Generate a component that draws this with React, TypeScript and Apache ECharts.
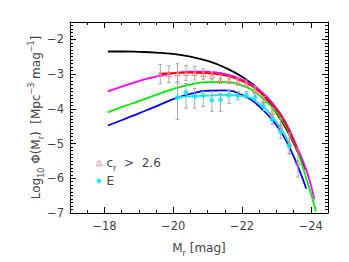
import React, { useEffect, useRef } from 'react';
import * as echarts from 'echarts';

// Model curves: absolute magnitude M_r and log10 phi
const blackM = [-18.1, -18.5, -19, -19.5, -20, -20.5, -21, -21.5, -22, -22.5, -23, -23.3, -23.6, -23.85];
const blackPhi = [-2.35, -2.35, -2.36, -2.38, -2.42, -2.5, -2.62, -2.81, -3.08, -3.46, -4.12, -4.6, -5.2, -5.75];

const magentaM = [-18.1, -18.5, -19, -19.5, -20, -20.5, -21, -21.5, -22, -22.5, -23, -23.3, -23.6, -23.9, -24.1];
const magentaPhi = [-3.5, -3.36, -3.2, -3.07, -2.98, -2.93, -2.93, -3.0, -3.16, -3.45, -3.98, -4.45, -5.1, -5.85, -6.6];

const greenM = [-18.1, -18.5, -19, -19.5, -20, -20.5, -21, -21.5, -22, -22.5, -23, -23.3, -23.6, -23.9, -24.15];
const greenPhi = [-4.1, -3.95, -3.78, -3.6, -3.43, -3.3, -3.23, -3.23, -3.33, -3.6, -4.1, -4.55, -5.2, -6.1, -6.95];

const blueM = [-18.1, -18.5, -19, -19.5, -20, -20.5, -21, -21.5, -22, -22.5, -23, -23.3, -23.6, -23.87];
const bluePhi = [-4.48, -4.33, -4.13, -3.93, -3.72, -3.57, -3.48, -3.47, -3.6, -3.93, -4.47, -4.95, -5.6, -6.3];

const redM = [-19.6, -20, -20.5, -21, -21.5, -22, -22.5, -23, -23.3, -23.65];
const redPhi = [-2.99, -2.97, -2.96, -2.97, -3.04, -3.2, -3.5, -4.02, -4.5, -5.3];

const cyanM = [-20.1, -20.5, -21, -21.5, -22, -22.5, -23, -23.4];
const cyanPhi = [-3.68, -3.64, -3.62, -3.6, -3.63, -3.85, -4.38, -5.05];

// Measured points: c_r > 2.6 (triangles)
const crM = [-19.625, -19.875, -20.125, -20.375, -20.625, -20.875, -21.125, -21.375, -21.625, -21.875, -22.125, -22.375, -22.625, -22.875, -23.125, -23.375, -23.625];
const crPhi = [-3.0, -3.0, -2.98, -2.97, -2.97, -3.0, -3.05, -3.15, -3.18, -3.22, -3.27, -3.45, -3.75, -4.1, -4.5, -5.0, -5.55];
const crErr = [0.28, 0.24, 0.28, 0.22, 0.2, 0.15, 0.12, 0.12, 0.1, 0.1, 0.1, 0.1, 0.1, 0.12, 0.22, 0.3, 0.42];

// Measured points: E (filled circles)
const eM = [-20.125, -20.375, -20.625, -20.875, -21.125, -21.375, -21.625, -21.875, -22.125, -22.375, -22.625, -22.875, -23.125, -23.375];
const ePhi = [-3.68, -3.53, -3.64, -3.62, -3.75, -3.74, -3.61, -3.62, -3.6, -3.67, -3.93, -4.3, -4.65, -5.07];
const eHi = [-3.22, -3.27, -3.41, -3.51, -3.51, -3.56, -3.46, -3.5, -3.5, -3.57, -3.81, -4.15, -4.45, -4.85];
const eLo = [-4.3, -3.98, -3.98, -3.93, -4.07, -4.07, -3.84, -3.74, -3.7, -3.77, -4.05, -4.45, -4.85, -5.29];

const xMajorTicks = [-24, -22, -20, -18];
const xMinorTicks = [-24.5, -23.5, -23, -22.5, -21.5, -21, -20.5, -19.5, -19, -18.5, -17.5];

const FONT = 'DejaVu Sans';
const TXT = '#444';
const TRI_COLOR = '#f07878';
const DOT_COLOR = '#00e8f8';

const pairs = (xs: number[], ys: number[]) => xs.map((x, i) => [x, ys[i]]);

const minusFmt = (v: number) => {
  if (Math.abs(v - Math.round(v)) > 1e-6) return '';
  return v < 0 ? '\u2212' + Math.abs(v) : String(v);
};

export default function App() {
  const ref = useRef<HTMLDivElement>(null);
  useEffect(() => {
    if (!ref.current) return;
    const chart = echarts.init(ref.current, undefined, { renderer: 'svg' });

    const lineSeries = (name: string, xs: number[], ys: number[], color: string, z: number) => ({
      name,
      type: 'line',
      data: pairs(xs, ys),
      smooth: true,
      symbol: 'none',
      showSymbol: false,
      lineStyle: { color, width: 1.8 },
      itemStyle: { color },
      z,
    });

    const errData = [
      ...crM.map((m, i) => [m, crPhi[i] - crErr[i], crPhi[i] + crErr[i]]),
      ...eM.map((m, i) => [m, eLo[i], eHi[i]]),
    ];

    const baseX = {
      type: 'value',
      min: -24.5,
      max: -17,
      inverse: true,
      splitLine: { show: false },
    };
    const baseY = {
      type: 'value',
      min: -7,
      max: -1.5,
      interval: 1,
      splitLine: { show: false },
    };

    const richText = {
      t: { fontFamily: FONT, fontSize: 12, color: TXT, lineHeight: 18 },
      s: { fontFamily: FONT, fontSize: 8, color: TXT, verticalAlign: 'bottom', lineHeight: 18 },
      p: { fontFamily: FONT, fontSize: 8, color: TXT, verticalAlign: 'top', lineHeight: 18 },
    };

    chart.setOption({
      animation: false,
      backgroundColor: '#fff',
      grid: { left: 70, right: 21, top: 22, bottom: 45, containLabel: false },
      legend: {
        orient: 'vertical',
        left: 91,
        top: 152,
        itemWidth: 5,
        itemHeight: 5,
        itemGap: 3,
        data: [
          { name: 'cr', icon: 'triangle', itemStyle: { color: 'rgba(255,255,255,0)', borderColor: TRI_COLOR, borderWidth: 1 } },
          { name: 'E', icon: 'circle', itemStyle: { color: DOT_COLOR, borderWidth: 0 } },
        ],
        formatter: (name: string) => (name === 'cr' ? '{t|c}{s|r}{t|  >  2.6}' : '{t|E}'),
        textStyle: { rich: richText },
      },
      xAxis: [
        {
          ...baseX,
          position: 'bottom',
          axisLine: { show: true, lineStyle: { color: '#000', width: 1 } },
          axisTick: { show: true, inside: true, length: 6, customValues: xMajorTicks, lineStyle: { color: '#000' } },
          axisLabel: {
            show: true,
            customValues: xMajorTicks,
            formatter: minusFmt,
            color: TXT,
            fontFamily: FONT,
            fontSize: 11.5,
            margin: 7,
          },
          name: '{t|M}{s|r}{t| [mag]}',
          nameLocation: 'middle',
          nameGap: 26,
          nameMoveOverlap: false,
          nameTextStyle: { rich: richText },
        },
        {
          ...baseX,
          position: 'bottom',
          axisLine: { show: false },
          axisTick: { show: true, inside: true, length: 3, customValues: xMinorTicks, lineStyle: { color: '#000' } },
          axisLabel: { show: false },
        },
        {
          ...baseX,
          position: 'top',
          axisLine: { show: true, lineStyle: { color: '#000', width: 1 } },
          axisTick: { show: true, inside: true, length: 6, customValues: xMajorTicks, lineStyle: { color: '#000' } },
          axisLabel: { show: false },
        },
        {
          ...baseX,
          position: 'top',
          axisLine: { show: false },
          axisTick: { show: true, inside: true, length: 3, customValues: xMinorTicks, lineStyle: { color: '#000' } },
          axisLabel: { show: false },
        },
      ],
      yAxis: [
        {
          ...baseY,
          position: 'left',
          axisLine: { show: true, lineStyle: { color: '#000', width: 1 } },
          axisTick: { show: true, inside: true, length: 6, lineStyle: { color: '#000' } },
          minorTick: { show: true, splitNumber: 10, length: 3, lineStyle: { color: '#000' } },
          axisLabel: { formatter: minusFmt, color: TXT, fontFamily: FONT, fontSize: 11.5, margin: 6 },
          name: '{t|Log}{s|10}{t| Φ(M}{s|r}{t|)  [Mpc}{p|\u22123}{t| mag}{p|\u22121}{t|]}',
          nameLocation: 'middle',
          nameRotate: 90,
          nameGap: 25,
          nameMoveOverlap: false,
          nameTextStyle: { rich: richText },
        },
        {
          ...baseY,
          position: 'right',
          axisLine: { show: true, lineStyle: { color: '#000', width: 1 } },
          axisTick: { show: true, inside: true, length: 6, lineStyle: { color: '#000' } },
          minorTick: { show: true, splitNumber: 10, length: 3, lineStyle: { color: '#000' } },
          axisLabel: { show: false },
        },
      ],
      series: [
        lineSeries('black', blackM, blackPhi, '#000000', 2),
        lineSeries('magenta', magentaM, magentaPhi, '#ff00ff', 3),
        lineSeries('green', greenM, greenPhi, '#00ee00', 3),
        lineSeries('blue', blueM, bluePhi, '#0000ff', 3),
        lineSeries('red', redM, redPhi, '#ff0000', 4),
        lineSeries('cyan', cyanM, cyanPhi, '#00eeff', 4),
        {
          name: 'errors',
          type: 'custom',
          z: 5,
          data: errData,
          encode: { x: 0, y: [1, 2] },
          renderItem: (_params: any, api: any) => {
            const x = api.value(0);
            const p1 = api.coord([x, api.value(1)]);
            const p2 = api.coord([x, api.value(2)]);
            const c = 2;
            const st = { stroke: '#a8a8a8', lineWidth: 1 };
            return {
              type: 'group',
              children: [
                { type: 'line', shape: { x1: p1[0], y1: p1[1], x2: p2[0], y2: p2[1] }, style: st },
                { type: 'line', shape: { x1: p1[0] - c, y1: p1[1], x2: p1[0] + c, y2: p1[1] }, style: st },
                { type: 'line', shape: { x1: p2[0] - c, y1: p2[1], x2: p2[0] + c, y2: p2[1] }, style: st },
              ],
            };
          },
        },
        {
          name: 'cr',
          type: 'scatter',
          z: 6,
          data: pairs(crM, crPhi),
          symbol: 'triangle',
          symbolSize: 5,
          itemStyle: { color: 'rgba(255,255,255,0)', borderColor: TRI_COLOR, borderWidth: 1 },
        },
        {
          name: 'E',
          type: 'scatter',
          z: 6,
          data: pairs(eM, ePhi),
          symbol: 'circle',
          symbolSize: 5,
          itemStyle: { color: DOT_COLOR },
        },
      ],
    });
    return () => chart.dispose();
  }, []);
  return <div ref={ref} style={{ position: 'absolute', left: 0, top: 0, width: 349, height: 262 }} />;
}
